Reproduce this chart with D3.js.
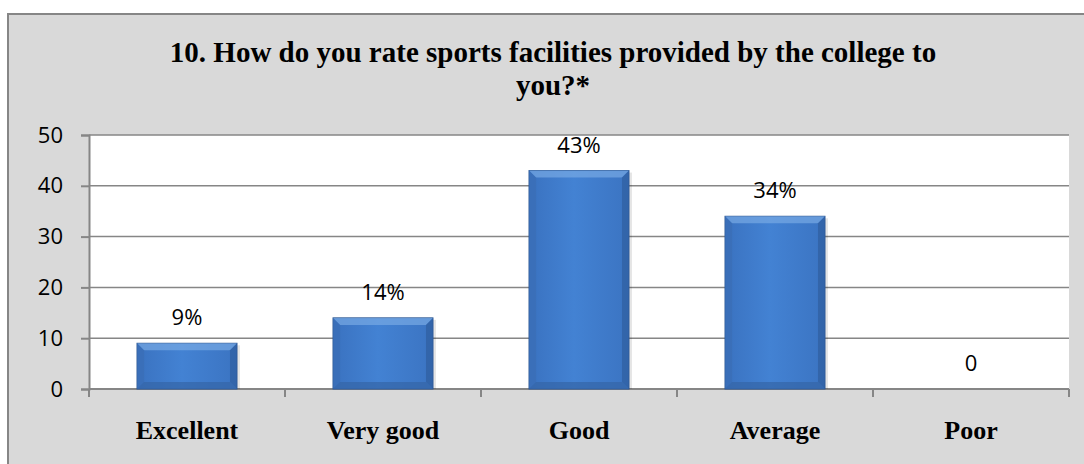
<!DOCTYPE html>
<html>
<head>
<meta charset="utf-8">
<script src="https://cdn.jsdelivr.net/npm/d3@7"></script>
<style>
  body { margin: 0; background: #ffffff; }
  svg { display: block; }
</style>
</head>
<body>
<div id="chart"></div>
<script>
// chart data
let categories = ["Excellent", "Very good", "Good", "Average", "Poor"];
let values = [9, 14, 43, 34, 0];
let value_labels = ["9%", "14%", "43%", "34%", "0"];
let y_ticks = [0, 10, 20, 30, 40, 50];
let title_lines = ["10. How do you rate sports facilities provided by the college to", "you?*"];

let W = 1084, H = 464;
let plot = {left: 89, right: 1069, top: 135, bottom: 389};
let grid_color = "#868686";
let label_font = "'Open Sans', 'Liberation Sans', Arial, sans-serif";

let svg = d3.select("#chart").append("svg")
    .attr("width", W)
    .attr("height", H);

// gradients for the bars
let defs = svg.append("defs");
let grad = defs.append("linearGradient")
    .attr("id", "bar_grad")
    .attr("x1", "0").attr("y1", "0").attr("x2", "1").attr("y2", "0");
grad.append("stop").attr("offset", "0%").attr("stop-color", "#3a72c0");
grad.append("stop").attr("offset", "45%").attr("stop-color", "#4382d3");
grad.append("stop").attr("offset", "100%").attr("stop-color", "#3b74c2");

// chart area background and border
svg.append("rect")
    .attr("x", 8).attr("y", 14)
    .attr("width", 1095).attr("height", 470)
    .attr("fill", "#d9d9d9")
    .attr("stroke", grid_color)
    .attr("stroke-width", 2);

// plot area
svg.append("rect")
    .attr("x", plot.left).attr("y", plot.top)
    .attr("width", plot.right - plot.left)
    .attr("height", plot.bottom - plot.top)
    .attr("fill", "#ffffff");

// title
svg.append("g").selectAll("text")
    .data(title_lines)
    .enter().append("text")
    .attr("x", 553)
    .attr("y", function (d, i) { return 62 + i * 33; })
    .attr("text-anchor", "middle")
    .attr("font-family", "'Liberation Serif', 'Times New Roman', serif")
    .attr("font-weight", "bold")
    .attr("font-size", "29px")
    .attr("fill", "#000")
    .text(function (d) { return d; });

// scales
let x = d3.scaleBand()
    .domain(categories)
    .range([plot.left, plot.right])
    .paddingInner(0)
    .paddingOuter(0);

let y = d3.scaleLinear()
    .domain([0, 50])
    .range([plot.bottom, plot.top]);

// gridlines
svg.append("g").selectAll("line")
    .data(y_ticks.filter(function (d) { return d > 0; }))
    .enter().append("line")
    .attr("x1", plot.left).attr("x2", plot.right)
    .attr("y1", function (d) { return y(d); })
    .attr("y2", function (d) { return y(d); })
    .attr("stroke", grid_color)
    .attr("stroke-width", 1.5);

// y axis
let y_axis = svg.append("g")
    .attr("transform", "translate(" + plot.left + ",0)")
    .call(d3.axisLeft(y).tickValues(y_ticks).tickSize(8).tickPadding(18).tickFormat(d3.format("d")));
y_axis.select(".domain").attr("stroke", grid_color).attr("stroke-width", 2);
y_axis.selectAll(".tick line").attr("stroke", grid_color).attr("stroke-width", 2);
y_axis.selectAll(".tick text")
    .attr("font-family", label_font)
    .attr("font-size", "22px")
    .attr("fill", "#000");

// x axis: ticks on category boundaries
let bounds = categories.map(function (c) { return x(c); }).concat([plot.right]);
let x_axis = svg.append("g");
x_axis.append("line")
    .attr("x1", plot.left).attr("x2", plot.right)
    .attr("y1", plot.bottom).attr("y2", plot.bottom)
    .attr("stroke", grid_color).attr("stroke-width", 2);
x_axis.selectAll(".xtick")
    .data(bounds)
    .enter().append("line")
    .attr("class", "xtick")
    .attr("x1", function (d) { return d; })
    .attr("x2", function (d) { return d; })
    .attr("y1", plot.bottom)
    .attr("y2", plot.bottom + 8)
    .attr("stroke", grid_color).attr("stroke-width", 2);

x_axis.selectAll(".xlabel")
    .data(categories)
    .enter().append("text")
    .attr("class", "xlabel")
    .attr("x", function (d) { return x(d) + x.bandwidth() / 2; })
    .attr("y", 439)
    .attr("text-anchor", "middle")
    .attr("font-family", "'Liberation Serif', 'Times New Roman', serif")
    .attr("font-weight", "bold")
    .attr("font-size", "26px")
    .attr("fill", "#000")
    .text(function (d) { return d; });

// bars
let bar_w = x.bandwidth() * 0.51;
let bev = 7;
let bars = svg.append("g").selectAll("g")
    .data(categories.map(function (c, i) { return {cat: c, val: values[i], label: value_labels[i]}; }))
    .enter().append("g")
    .filter(function (d) { return d.val > 0; });

function bar_x0(d) { return x(d.cat) + (x.bandwidth() - bar_w) / 2; }

// soft shadow
bars.append("rect")
    .attr("x", function (d) { return bar_x0(d) + 3; })
    .attr("y", function (d) { return y(d.val) + 2; })
    .attr("width", bar_w)
    .attr("height", function (d) { return y(0) - y(d.val) - 2; })
    .attr("fill", "#000")
    .attr("opacity", 0.1);

bars.append("rect")
    .attr("x", bar_x0)
    .attr("y", function (d) { return y(d.val); })
    .attr("width", bar_w)
    .attr("height", function (d) { return y(0) - y(d.val); })
    .attr("fill", "url(#bar_grad)")
    .attr("stroke", "#2a5592")
    .attr("stroke-width", 1);

// bevel: top (light), left, right and bottom (dark)
function bevel(d, side) {
    let x0 = bar_x0(d), x1 = x0 + bar_w, y0 = y(d.val), y1 = y(0);
    let p;
    if (side === "top") p = [[x0, y0], [x1, y0], [x1 - bev, y0 + bev], [x0 + bev, y0 + bev]];
    if (side === "left") p = [[x0, y0], [x0 + bev, y0 + bev], [x0 + bev, y1 - bev], [x0, y1]];
    if (side === "right") p = [[x1, y0], [x1 - bev, y0 + bev], [x1 - bev, y1 - bev], [x1, y1]];
    if (side === "bottom") p = [[x0, y1], [x0 + bev, y1 - bev], [x1 - bev, y1 - bev], [x1, y1]];
    return "M" + p.join("L") + "Z";
}
let bevel_fill = {top: "#78a9e4", left: "#3a6db5", right: "#2f5e9f", bottom: "#3565a6"};
["top", "left", "right", "bottom"].forEach(function (side) {
    bars.append("path")
        .attr("d", function (d) { return bevel(d, side); })
        .attr("fill", bevel_fill[side])
        .attr("opacity", 0.7);
});

// value labels
svg.append("g").selectAll("text")
    .data(categories.map(function (c, i) { return {cat: c, val: values[i], label: value_labels[i]}; }))
    .enter().append("text")
    .attr("x", function (d) { return x(d.cat) + x.bandwidth() / 2; })
    .attr("y", function (d) { return y(d.val) - 18; })
    .attr("text-anchor", "middle")
    .attr("font-family", label_font)
    .attr("font-size", "22px")
    .attr("fill", "#000")
    .text(function (d) { return d.label; });
</script>
</body>
</html>
